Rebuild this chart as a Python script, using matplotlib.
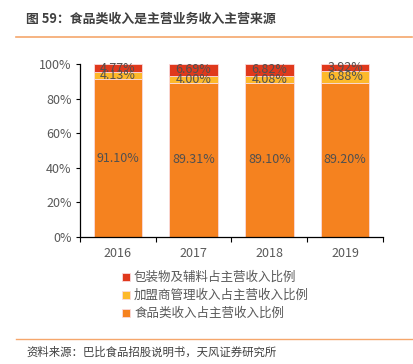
import matplotlib
matplotlib.use("Agg")
import matplotlib.pyplot as plt
import numpy as np

plt.rcParams['font.family'] = ['Noto Sans CJK SC', 'DejaVu Sans']

years = ["2016", "2017", "2018", "2019"]
food = [91.10, 89.31, 89.10, 89.20]
franchise = [4.13, 4.00, 4.08, 6.88]
packaging = [4.77, 6.69, 6.82, 3.92]

series = [
    ("食品类收入占主营收入比例", food, "#F5821F"),
    ("加盟商管理收入占主营收入比例", franchise, "#FDB92A"),
    ("包装物及辅料占主营收入比例", packaging, "#E0391C"),
]

fig = plt.figure(figsize=(4.14, 3.64), dpi=100)
ax = fig.add_axes([0.193, 0.349, 0.732, 0.475])

x = np.arange(len(years))
bottom = np.zeros(len(years))
handles = []
for name, vals, color in series:
    vals = np.array(vals)
    bars = ax.bar(x, vals, bottom=bottom, width=0.64, color=color,
                  edgecolor="#FADADD", linewidth=0.6, label=name)
    handles.append(bars)
    for xi, b, v in zip(x, bottom, vals):
        ax.text(xi, b + v / 2, f"{v:.2f}%", ha="center", va="center",
                fontsize=9, color="#505050")
    bottom += vals

ax.set_xlim(-0.5, 3.5)
ax.set_ylim(0, 100)
ax.set_yticks(range(0, 101, 20))
ax.set_yticklabels([f"{v}%" for v in range(0, 101, 20)])
ax.set_xticks(x)
ax.set_xticklabels(years)
ax.set_xticks(np.arange(-0.5, 4, 1), minor=True)
ax.tick_params(axis="x", which="major", length=0, pad=7)
ax.tick_params(axis="x", which="minor", length=3.5, width=0.8, direction="out")
ax.tick_params(axis="y", length=3, width=0.8, direction="out", pad=3)
ax.tick_params(labelsize=9, labelcolor="#595959")
for s in ["top", "right"]:
    ax.spines[s].set_visible(False)
for s in ["left", "bottom"]:
    ax.spines[s].set_color("#000000")
    ax.spines[s].set_linewidth(0.9)

fig.legend([handles[2], handles[1], handles[0]],
           [series[2][0], series[1][0], series[0][0]],
           loc="upper left", bbox_to_anchor=(0.28, 0.272),
           frameon=False, fontsize=9, labelcolor="#595959",
           handlelength=0.6, handleheight=0.6, handletextpad=0.35,
           labelspacing=0.4, borderpad=0)

fig.text(0.063, 0.948, "图 59：食品类收入是主营业务收入主营来源", fontsize=9.3,
         fontweight="bold", color="#404040", va="center")
fig.add_artist(plt.Line2D([0.039, 0.995], [0.898, 0.898], color="#F5A76C",
                          linewidth=1.2, transform=fig.transFigure))
fig.add_artist(plt.Line2D([0.039, 0.995], [0.069, 0.069], color="#F5A76C",
                          linewidth=1.0, transform=fig.transFigure))
fig.text(0.063, 0.033, "资料来源：巴比食品招股说明书，天风证券研究所", fontsize=8.2,
         color="#404040", va="center")

fig.savefig("out.png", dpi=100)
